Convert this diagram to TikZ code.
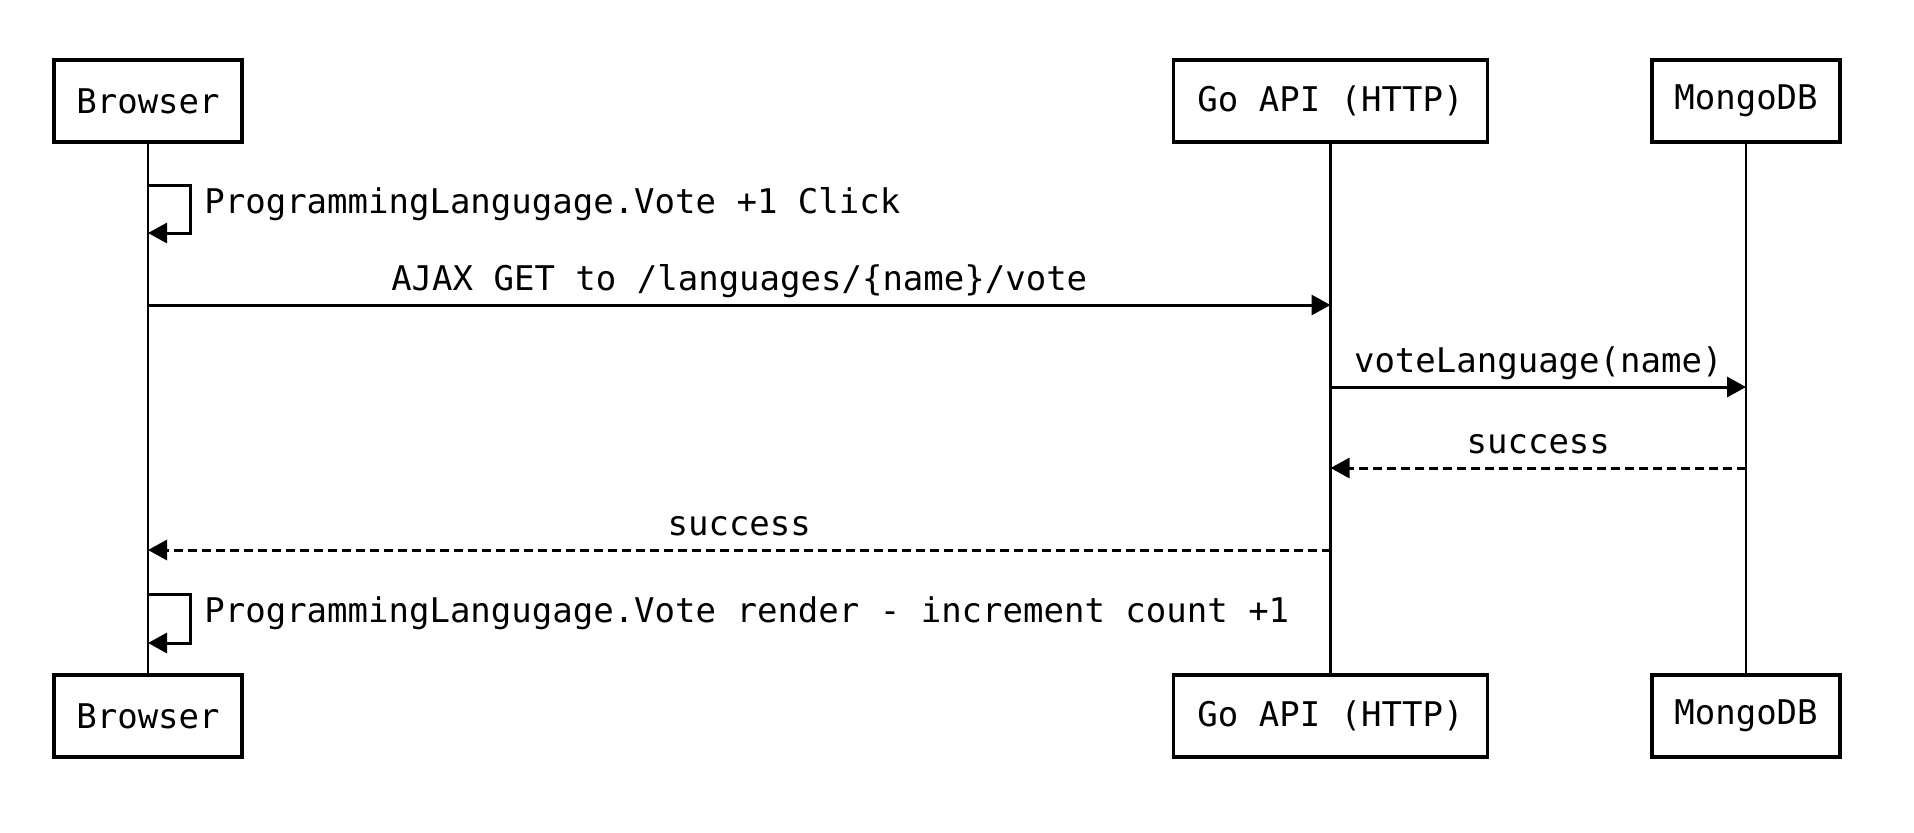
\documentclass[tikz,border=0pt]{standalone}
\usepackage{fontspec}
\setmonofont{DejaVu Sans Mono}
\usetikzlibrary{arrows.meta}

\begin{document}
\begin{tikzpicture}[x=0.5pt, y=-0.5pt, font=\ttfamily\fontsize{17}{20}\selectfont]

% Set the overall size of the picture
\useasboundingbox (0,0) rectangle (1914,832);

% Define styles for actors, lifelines and messages
\tikzstyle{actor} = [draw, line width=1.6pt, minimum height=41pt, inner sep=0pt]
\tikzstyle{lifeline} = [line width=1.3pt]
\tikzstyle{msg} = [line width=1.5pt, -{Triangle[length=9.5pt, width=10pt]}]
\tikzstyle{reply} = [msg, dash pattern=on 4.5pt off 2.5pt]
\tikzstyle{msgtext} = [midway, anchor=base, yshift=7.5pt]
\tikzstyle{selftext} = [anchor=base west, inner sep=0pt]

% Actors, top and bottom
\node[actor, minimum width=94pt] (browser) at (148,101) {Browser};
\node[actor, minimum width=157pt] (goapi) at (1330.5,101) {Go API (HTTP)};
\node[actor, minimum width=94pt] (mongo) at (1746,101) {MongoDB};

\node[actor, minimum width=94pt] (browserB) at (148,716) {Browser};
\node[actor, minimum width=157pt] (goapiB) at (1330.5,716) {Go API (HTTP)};
\node[actor, minimum width=94pt] (mongoB) at (1746,716) {MongoDB};

% Lifelines
\draw[lifeline] (browser) -- (browserB);
\draw[lifeline] (goapi) -- (goapiB);
\draw[lifeline] (mongo) -- (mongoB);

% Points on the lifelines
\coordinate (clickA) at (browser |- 0,185);
\coordinate (clickB) at (browser |- 0,233);
\coordinate (ajaxS) at (browser |- 0,305);
\coordinate (ajaxE) at (goapi |- 0,305);
\coordinate (voteS) at (goapi |- 0,387);
\coordinate (voteE) at (mongo |- 0,387);
\coordinate (okS) at (mongo |- 0,468);
\coordinate (okE) at (goapi |- 0,468);
\coordinate (backS) at (goapi |- 0,550);
\coordinate (backE) at (browser |- 0,550);
\coordinate (renderA) at (browser |- 0,594);
\coordinate (renderB) at (browser |- 0,643);

% Self call on click
\draw[msg] (clickA) -- ++(42,0) |- (clickB);
\node[selftext] (clickTxt) at (204,213) {ProgrammingLangugage.Vote +1 Click};

% Calls and replies
\draw[msg] (ajaxS) -- (ajaxE) node[msgtext] {AJAX GET to /languages/\{name\}/vote};
\draw[msg] (voteS) -- (voteE) node[msgtext] {voteLanguage(name)};
\draw[reply] (okS) -- (okE) node[msgtext] {success};
\draw[reply] (backS) -- (backE) node[msgtext] {success};

% Self call on render
\draw[msg] (renderA) -- ++(42,0) |- (renderB);
\node[selftext] (renderTxt) at (204,622) {ProgrammingLangugage.Vote render - increment count +1};

\end{tikzpicture}
\end{document}
